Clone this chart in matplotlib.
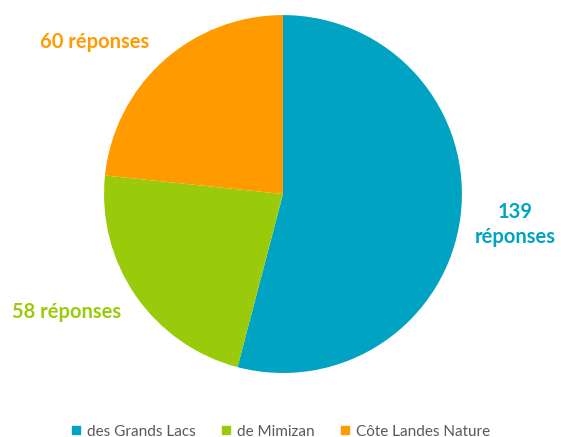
import matplotlib.pyplot as plt
import matplotlib
from matplotlib.lines import Line2D

matplotlib.rcParams['font.family'] = ['Lato', 'DejaVu Sans']

categories = ['des Grands Lacs', 'de Mimizan', 'Côte Landes Nature']
values = [139, 58, 60]
labels = ['139\nréponses', '58 réponses', '60 réponses']
colors = ['#01A3C3', '#9ACB0B', '#FF9A00']
label_pos = [(1.30, -0.17), (-1.21, -0.66), (-1.05, 0.85)]

fig = plt.figure(figsize=(5.61, 4.37), dpi=100)
ax = fig.add_axes([0.1854, 0.1465, 0.638, 0.819])

ax.pie(values, colors=colors, startangle=90, counterclock=False,
       radius=1, wedgeprops=dict(linewidth=0))
ax.set_xlim(-1, 1)
ax.set_ylim(-1, 1)
ax.set_aspect('equal')

for lab, (x, y), c in zip(labels, label_pos, colors):
    ax.text(x, y, lab, color=c, fontsize=14.5, fontweight='bold',
            ha='center', va='center', clip_on=False, linespacing=1.3)

handles = [Line2D([], [], marker='s', linestyle='none', markersize=5.5,
                  markerfacecolor=c, markeredgecolor=c) for c in colors]
fig.legend(handles, categories, loc='lower center', ncol=3, frameon=False,
           bbox_to_anchor=(0.5, -0.035), fontsize=11, handlelength=0.7,
           handletextpad=0.4, columnspacing=1.6, labelcolor='#595959')

plt.savefig('out.png', dpi=100)
plt.close()
